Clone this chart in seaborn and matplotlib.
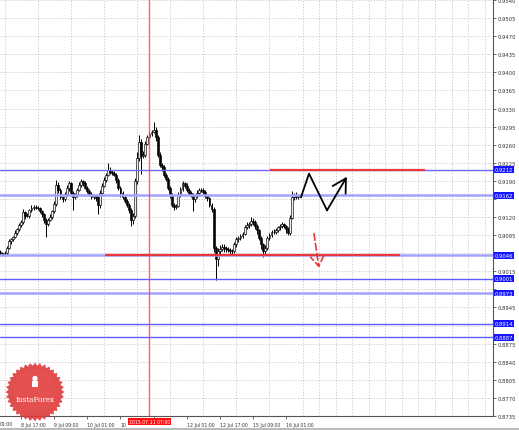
import matplotlib
matplotlib.use('Agg')
import matplotlib.pyplot as plt
import matplotlib.transforms as mtransforms
from matplotlib.patches import Polygon, Circle, Rectangle
import seaborn as sns
import numpy as np
import pandas as pd

# hourly candles, hour 0 = 8 Jul 01:00
first_hour = 6
first_open = 0.9053
closes = [
    0.9051, 0.9048, 0.9051, 0.9061, 0.9073, 0.9077, 0.9082, 0.9090, 0.9096, 0.9104,
    0.9111, 0.9129, 0.9123, 0.9123, 0.9133, 0.9138, 0.9140, 0.9138, 0.9138, 0.9131,
    0.9125, 0.9115, 0.9106, 0.9115, 0.9121, 0.9131, 0.9146, 0.9183, 0.9173, 0.9158,
    0.9154, 0.9165, 0.9177, 0.9185, 0.9167, 0.9158, 0.9163, 0.9173, 0.9183, 0.9189,
    0.9185, 0.9177, 0.9171, 0.9165, 0.9158, 0.9162, 0.9156, 0.9144, 0.9167, 0.9181,
    0.9192, 0.9202, 0.9212, 0.9208, 0.9206, 0.9202, 0.9192, 0.9177, 0.9167, 0.9158,
    0.9152, 0.9144, 0.9134, 0.9115, 0.9123, 0.9189, 0.9235, 0.9266, 0.9239, 0.9241,
    0.9262, 0.9275, 0.9281, 0.9285, 0.9289, 0.9274, 0.9241, 0.9221, 0.9216, 0.9202,
    0.9194, 0.9177, 0.9162, 0.9144, 0.9140, 0.9142, 0.9163, 0.9175, 0.9185, 0.9181,
    0.9173, 0.9167, 0.9163, 0.9154, 0.9160, 0.9167, 0.9173, 0.9173, 0.9169, 0.9160,
    0.9156, 0.9144, 0.9136, 0.9061, 0.9038, 0.9055, 0.9059, 0.9063, 0.9061, 0.9059,
    0.9057, 0.9055, 0.9055, 0.9067, 0.9077, 0.9080, 0.9084, 0.9088, 0.9100, 0.9104,
    0.9107, 0.9113, 0.9111, 0.9102, 0.9094, 0.9080, 0.9067, 0.9055, 0.9061, 0.9079,
    0.9086, 0.9092, 0.9092, 0.9094, 0.9100, 0.9102, 0.9106, 0.9102, 0.9096, 0.9090,
    0.9119, 0.9158, 0.9162, 0.9158, 0.9160,
]
# wick lengths in pips above / below the body
upper_pips = [
    3, 2, 4, 3, 4, 3, 2, 4, 3, 5,
    4, 6, 3, 4, 3, 5, 3, 4, 3, 2,
    3, 3, 4, 3, 4, 3, 5, 9, 4, 3,
    3, 4, 5, 4, 3, 3, 4, 3, 5, 4,
    3, 4, 3, 3, 4, 3, 3, 4, 6, 4,
    5, 4, 13, 4, 3, 4, 3, 3, 4, 3,
    4, 3, 3, 3, 4, 6, 10, 13, 5, 6,
    5, 4, 6, 4, 15, 5, 4, 5, 3, 4,
    3, 4, 3, 4, 3, 4, 5, 4, 5, 3,
    4, 3, 4, 3, 4, 5, 3, 4, 3, 4,
    3, 3, 4, 4, 3, 5, 6, 4, 5, 3,
    4, 3, 3, 4, 5, 3, 4, 4, 5, 6,
    4, 8, 5, 3, 4, 3, 3, 3, 4, 5,
    4, 3, 5, 4, 3, 4, 4, 3, 3, 4,
    5, 12, 4, 6, 4,
]
lower_pips = [
    4, 3, 3, 4, 3, 5, 3, 3, 4, 3,
    3, 4, 6, 3, 4, 3, 4, 3, 5, 4,
    4, 6, 24, 4, 3, 5, 3, 4, 6, 4,
    5, 3, 4, 6, 4, 24, 3, 4, 3, 4,
    4, 3, 4, 5, 3, 4, 5, 19, 6, 3,
    3, 4, 3, 4, 5, 3, 6, 4, 8, 4,
    5, 4, 6, 12, 8, 4, 5, 6, 35, 5,
    4, 3, 4, 5, 3, 6, 4, 5, 6, 4,
    5, 4, 5, 4, 6, 4, 3, 4, 5, 4,
    4, 5, 4, 23, 4, 3, 4, 5, 4, 3,
    4, 5, 6, 8, 39, 12, 6, 5, 8, 6,
    5, 8, 6, 5, 4, 6, 5, 4, 3, 4,
    5, 4, 6, 5, 6, 5, 8, 13, 6, 4,
    3, 4, 5, 4, 3, 5, 4, 4, 6, 5,
    4, 3, 5, 4, 3,
]

# levels
blue_levels = [0.9212, 0.9162, 0.9046, 0.9001, 0.8973, 0.8914, 0.8887]
blue_colors = ['#6a6aff', '#a3a3ff', '#a3a3ff', '#5c5cff', '#a3a3ff', '#5c5cff', '#5c5cff']
blue_widths = [1.0, 1.8, 1.8, 1.0, 1.8, 1.0, 1.0]
red_levels = [0.9212, 0.9046]
red_from = [136.2, 56.5]
red_to = [211.1, 199.0]

# forecast drawings (hour, price)
zig_hours = [151.2, 155.1, 163.8]
zig_prices = [0.9158, 0.9204, 0.9133]
zig_end = (173.4, 0.9198)
down_start = (157.5, 0.9088)
down_end = (159.9, 0.9022)
marker_hour = 78
marker_label = '2015.07.11 07:00'

tick_hours = [16, 32, 48, 64, 80, 96, 112, 128, 144]
tick_labels = ['8 Jul 17:00', '9 Jul 09:00', '10 Jul 01:00', '10', '',
               '12 Jul 01:00', '12 Jul 17:00', '15 Jul 09:00', '16 Jul 01:00']
price_ticks = [round(0.9540 - 0.0035 * k, 4) for k in range(24)]
hidden_prices = [0.9155, 0.9050, 0.8980, 0.8910]

sns.set_theme(style='white')
plt.rcParams['font.family'] = ['DejaVu Sans']

df = pd.DataFrame({'close': closes})
df['hour'] = first_hour + np.arange(len(df))
df['open'] = [first_open] + closes[:-1]
df['high'] = df[['open', 'close']].max(axis=1) + np.array(upper_pips) * 0.0001
df['low'] = df[['open', 'close']].min(axis=1) - np.array(lower_pips) * 0.0001
bull = df['close'] >= df['open']

fig = plt.figure(figsize=(5.19, 4.31), dpi=100)
ax = fig.add_axes([0, 14 / 431, 493 / 519, 417 / 431])
ax.set_xlim(5.8, 244.0)
ax.set_ylim(0.8735, 0.9542)

# grid
ax.set_xticks(np.arange(8, 244, 8), minor=True)
ax.grid(True, which='minor', axis='x', color='#c4c4c4', lw=0.6, ls=(0, (1.5, 2)))
ax.set_yticks(price_ticks)
ax.grid(True, which='major', axis='y', color='#c4c4c4', lw=0.6, ls=(0, (1.5, 2)))
ax.set_axisbelow(True)

# candles
ax.vlines(df['hour'], df['low'], df['high'], color='black', lw=0.7, zorder=2)
ax.bar(df['hour'], df['close'] - df['open'], bottom=df['open'], width=0.9,
       color=np.where(bull, '#f0f0f0', 'black'), edgecolor='black', linewidth=0.45, zorder=2)

# levels
for lvl, c, w in zip(blue_levels, blue_colors, blue_widths):
    ax.axhline(lvl, color=c, lw=w, zorder=3)
for lvl, a, b in zip(red_levels, red_from, red_to):
    ax.hlines(lvl, a, b, color='#e8383d', lw=1.6, zorder=4)
ax.axvline(marker_hour, color='#ff4a4a', lw=1.0, alpha=0.85, zorder=3)

# forecast path
sns.lineplot(x=zig_hours, y=zig_prices, sort=False, estimator=None, color='black', lw=1.3, ax=ax, zorder=5)
ax.annotate('', xy=zig_end, xytext=(zig_hours[-1], zig_prices[-1]),
            arrowprops=dict(arrowstyle='->,head_length=0.8,head_width=0.45', color='black', lw=1.3,
                            shrinkA=0, shrinkB=0), zorder=5)
ax.annotate('', xy=down_end, xytext=down_start,
            arrowprops=dict(arrowstyle='->,head_length=0.6,head_width=0.4', color='#e8383d', lw=1.2,
                            ls=(0, (4, 2)), shrinkA=0, shrinkB=0), zorder=5)

# axes styling
for s in ['left', 'top']:
    ax.spines[s].set_visible(False)
for s in ['right', 'bottom']:
    ax.spines[s].set_color('#555555')
    ax.spines[s].set_linewidth(0.8)
ax.yaxis.tick_right()
ax.set_yticklabels(['' if p in hidden_prices else f'{p:.4f}' for p in price_ticks])
ax.set_xticks(tick_hours)
ax.set_xticklabels(tick_labels)
for lab in ax.get_xticklabels():
    lab.set_ha('left')
ax.tick_params(axis='y', which='major', length=2, width=0.5, pad=1.5, labelsize=3.8,
               colors='#333333', right=True, left=False)
ax.tick_params(axis='x', which='major', length=2.5, width=0.5, pad=1.5, labelsize=3.3,
               colors='#333333', bottom=True)
ax.tick_params(axis='x', which='minor', length=0)
ax.set_xlabel('')
ax.set_ylabel('')

xt = mtransforms.blended_transform_factory(ax.transData, ax.transAxes)
ax.text(5.8, -0.011, '01:00', transform=xt, ha='left', va='top', fontsize=3.3, color='#333333')
ax.text(marker_hour, -0.008, marker_label, transform=xt, ha='center', va='top', fontsize=3.3,
        color='white', zorder=10, clip_on=False,
        bbox=dict(boxstyle='square,pad=0.25', fc='#ff1010', ec='none'))

yt = mtransforms.blended_transform_factory(ax.transAxes, ax.transData)
for lvl in blue_levels:
    ax.text(1.004, lvl, f'{lvl:.4f}', transform=yt, ha='left', va='center', fontsize=3.8,
            color='white', zorder=10, clip_on=False,
            bbox=dict(boxstyle='square,pad=0.15', fc='#1414ff', ec='none'))

# logo badge
lax = fig.add_axes([5 / 519, 8 / 431, 60 / 519, 60 / 431])
lax.set_xlim(-1, 1)
lax.set_ylim(-1, 1)
lax.axis('off')
ang = np.linspace(0, 2 * np.pi, 72, endpoint=False)
rad = np.where(np.arange(72) % 2 == 0, 0.98, 0.88)
lax.add_patch(Polygon(np.column_stack([rad * np.cos(ang), rad * np.sin(ang)]),
                      closed=True, fc='#de3b3b', ec='none', alpha=0.9))
lax.add_patch(Circle((0, 0.05), 0.7, fc='#e85454', ec='none', alpha=0.6))
lax.add_patch(Rectangle((-0.1, 0.18), 0.2, 0.2, fc='white', ec='none'))
lax.add_patch(Circle((0, 0.45), 0.09, fc='white', ec='none'))
lax.text(0, -0.22, 'InstaForex', ha='center', va='center', fontsize=5.2, color='white',
         family=['DejaVu Serif'])

fig.add_artist(plt.Line2D([0, 1], [1 / 431, 1 / 431], color='#bbbbbb', lw=1.5))

fig.savefig('out.png', dpi=100, facecolor='white')
